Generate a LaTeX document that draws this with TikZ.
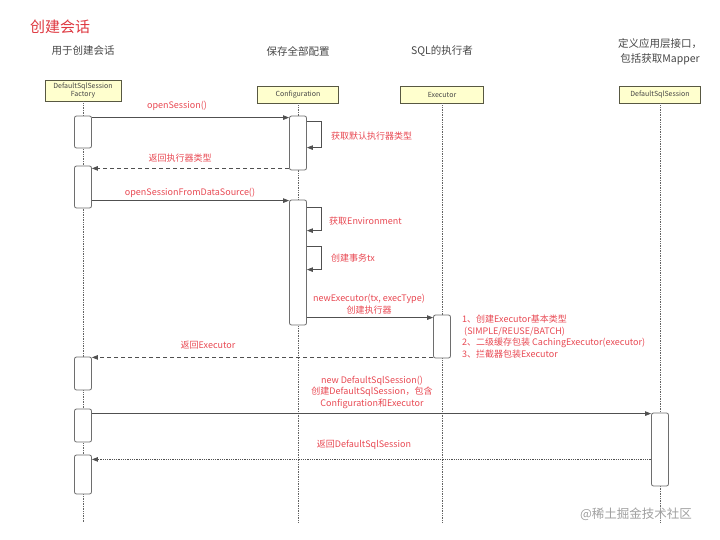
\documentclass[tikz,border=0pt]{standalone}
\usepackage{fontspec}
\setmainfont{Noto Sans CJK SC}
\usetikzlibrary{arrows.meta}
\definecolor{labelred}{RGB}{232,72,82}
\definecolor{titlered}{RGB}{222,56,64}
\definecolor{headfill}{RGB}{255,255,206}
\definecolor{headline}{RGB}{88,88,66}
\definecolor{actline}{RGB}{110,110,110}
\definecolor{msgline}{RGB}{80,80,80}
\definecolor{lifeline}{RGB}{100,100,100}
\definecolor{headtext}{RGB}{70,70,70}
\begin{document}
\begin{tikzpicture}[
    x=1pt, y=-1pt,
    lifehead/.style={draw=headline, fill=headfill, line width=0.8pt, minimum height=17pt, inner sep=1pt, font=\fontsize{7}{7.5}\selectfont, text=headtext, align=center},
    act/.style={draw=actline, fill=white, rounded corners=2pt, minimum width=17pt, inner sep=0pt, line width=0.8pt},
    life/.style={draw=lifeline, densely dotted, line width=0.7pt},
    msg/.style={draw=msgline, line width=0.8pt, -{Triangle[length=6pt, width=4.5pt]}},
    ret/.style={msg, dash pattern=on 4pt off 3pt},
    dotret/.style={msg, densely dotted},
    lbl/.style={text=labelred, font=\fontsize{9}{12}\selectfont, align=center, inner sep=0pt},
    role/.style={text=headtext, font=\fontsize{10.5}{15}\selectfont, align=center, inner sep=0pt},
    maintitle/.style={text=titlered, font=\fontsize{15}{18}\selectfont, inner sep=0pt}
    ]
    \useasboundingbox (0,0) rectangle (720,539);
    \node[maintitle, anchor=west] (title) at (30,27) {创建会话};
    % roles
    \node[role] (rf) at (83,51) {用于创建会话};
    \node[role] (rc) at (298,51) {保存全部配置};
    \node[role] (re) at (442,51) {SQL的执行者};
    \node[role] (rd) at (660,52) {定义应用层接口，\\包括获取Mapper};
    % lifeline heads
    \node[lifehead, minimum width=76pt, minimum height=21pt] (hf) at (83,90.5) {DefaultSqlSession\\Factory};
    \node[lifehead, minimum width=81pt] (hc) at (298,94.5) {Configuration};
    \node[lifehead, minimum width=83pt] (he) at (442,94.5) {Executor};
    \node[lifehead, minimum width=81pt] (hd) at (660,94.5) {DefaultSqlSession};
    \coordinate (endf) at (83,522);
    \coordinate (endc) at (298,522);
    \coordinate (ende) at (442,522);
    \coordinate (endd) at (660,522);
    \draw[life] (hf) -- (endf);
    \draw[life] (hc) -- (endc);
    \draw[life] (he) -- (ende);
    \draw[life] (hd) -- (endd);
    % activations
    \node[act, minimum height=32pt] (a1) at (83,132) {};
    \node[act, minimum height=42pt] (a2) at (83,187) {};
    \node[act, minimum height=33pt] (a3) at (83,373.5) {};
    \node[act, minimum height=33pt] (a4) at (83,425.5) {};
    \node[act, minimum height=39pt] (a5) at (83,474.5) {};
    \node[act, minimum height=54pt] (c1) at (298,143) {};
    \node[act, minimum height=125pt] (c2) at (298,262.5) {};
    \node[act, minimum height=43pt] (e1) at (442,336.5) {};
    \node[act, minimum height=73pt] (d1) at (660,449.5) {};
    % messages
    \coordinate (m1) at ([yshift=-2pt]c1.north west);
    \draw[msg] (a1.east |- m1) -- (m1);
    \node[lbl] (l1) at (177,106) {openSession()};
    \draw[msg] ([yshift=-6pt]c1.north east) -- ++(14,0) -- ++(0,26) -- ++(-14,0);
    \node[lbl, anchor=west] (l2) at (331,136) {获取默认执行器类型};
    \coordinate (m2) at ([yshift=2pt]c1.south west);
    \draw[ret] (m2) -- (a2.east |- m2);
    \node[lbl] (l3) at (180,158) {返回执行器类型};
    \coordinate (m3) at ([yshift=-1pt]c2.north west);
    \draw[msg] (a2.east |- m3) -- (m3);
    \node[lbl] (l4) at (190,193) {openSessionFromDataSource()};
    \draw[msg] ([yshift=-8pt]c2.north east) -- ++(14,0) -- ++(0,23) -- ++(-14,0);
    \node[lbl, anchor=west] (l5) at (329,221) {获取Environment};
    \draw[msg] ([yshift=-47pt]c2.north east) -- ++(14,0) -- ++(0,23) -- ++(-14,0);
    \node[lbl, anchor=west] (l6) at (331,258) {创建事务tx};
    \coordinate (m4) at ([yshift=-3pt]e1.north west);
    \draw[msg] (c2.east |- m4) -- (m4);
    \node[lbl] (l7) at (369,304) {newExecutor(tx, execType)\\创建执行器};
    \node[lbl, anchor=north west, align=left, font=\fontsize{9}{11.5}\selectfont] (note) at (462,315)
      {1、创建Executor基本类型\\\ (SIMPLE/REUSE/BATCH)\\2、二级缓存包装 CachingExecutor(executor)\\3、拦截器包装Executor};
    \coordinate (m5) at ([yshift=1pt]e1.south west);
    \draw[ret] (m5) -- (a3.east |- m5);
    \node[lbl] (l8) at (208,345) {返回Executor};
    \coordinate (m6) at ([yshift=-1pt]d1.north west);
    \draw[msg] (a4.east |- m6) -- (m6);
    \node[lbl, font=\fontsize{9}{11.5}\selectfont] (l9) at (372,392) {new DefaultSqlSession()\\创建DefaultSqlSession，包含\\Configuration和Executor};
    \coordinate (m7) at ([yshift=27pt]d1.south west);
    \draw[dotret] (m7) -- (a5.east |- m7);
    \node[lbl] (l10) at (364,445) {返回DefaultSqlSession};
    \node[text=gray!75, font=\fontsize{12.5}{14}\selectfont, inner sep=0pt] (mark) at (636,514) {@稀土掘金技术社区};
\end{tikzpicture}
\end{document}
